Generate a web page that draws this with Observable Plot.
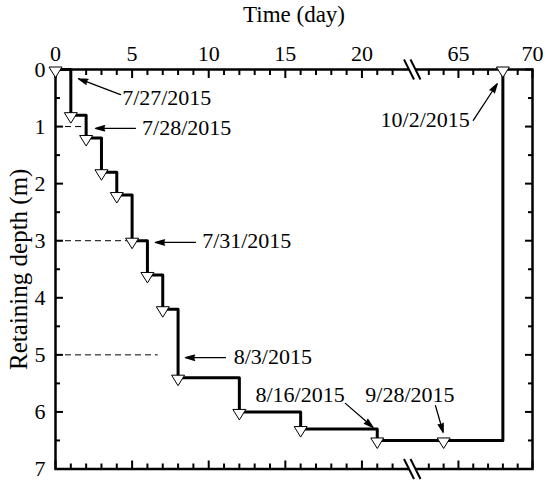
<!DOCTYPE html>
<html><head><meta charset="utf-8">
<script src="https://cdn.jsdelivr.net/npm/d3@7"></script>
<script src="https://cdn.jsdelivr.net/npm/@observablehq/plot@0.6"></script>
<style>body{margin:0;background:#fff}</style>
</head><body><div id="chart"></div>
<script>
// Excavation record: time (day) vs retaining depth (m)
const days   = [0, 1, 2, 3, 4, 5, 6, 7, 8, 12, 16, 21, 64, 68];
const depths = [0, 0.8, 1.2, 1.8, 2.2, 3.0, 3.6, 4.2, 5.4, 6.0, 6.3, 6.5, 6.5, 0];

// dashed reference lines
const refDepths = [1, 3, 5];
const refEnds = [2, 4.7, 6.7];

// date annotations
const dateLabels = ["7/27/2015", "7/28/2015", "7/31/2015", "8/3/2015", "8/16/2015", "9/28/2015", "10/2/2015"];
const labelX = [4.35, 5.65, 9.57, 11.63, 13.05, 20.22, 65.77];
const labelY = [0.49, 1.02, 3.0, 5.03, 5.70, 5.70, 0.88];
const labelAnchor = ["start", "start", "start", "start", "start", "start", "end"];
const arrowX1 = [4.24, 5.22, 9.13, 11.09, 18.92, 63.45, 66.0];
const arrowY1 = [0.44, 1.03, 3.03, 5.05, 5.85, 5.89, 0.89];
const arrowX2 = [1.5, 2.61, 6.52, 8.48, 20.72, 63.97, 67.62];
const arrowY2 = [0.16, 1.03, 3.03, 5.05, 6.27, 6.36, 0.25];

// ticks
const majorXTicks = [0, 5, 10, 15, 20, 65, 70];
const minorXTicks = [1, 2, 3, 4, 6, 7, 8, 9, 11, 12, 13, 14, 16, 17, 18, 19, 21, 22, 63, 64, 66, 67, 68, 69];
const yTicks = [0, 1, 2, 3, 4, 5, 6, 7];
const yMinorTicks = [0.5, 1.5, 2.5, 3.5, 4.5, 5.5, 6.5];

// axis break (days 23.3 .. 62 collapsed)
const breakStart = 23.3, breakEnd = 62;

const downTri = {draw(ctx) { ctx.moveTo(-6.5, -2.5); ctx.lineTo(6.5, -2.5); ctx.lineTo(0, 8); ctx.closePath(); }};
const breakFillSym = {draw(ctx) { ctx.moveTo(-8.5, -10); ctx.lineTo(-2, -10); ctx.lineTo(8, 10); ctx.lineTo(1.5, 10); ctx.closePath(); }};
const breakLineSym = {draw(ctx) { ctx.moveTo(-8.5, -10); ctx.lineTo(1.5, 10); ctx.moveTo(-2, -10); ctx.lineTo(8, 10); }};

const idx = days.map((d, i) => i);
const ann = dateLabels.map((d, i) => i);
const annStart = ann.filter(i => labelAnchor[i] === "start");
const annEnd = ann.filter(i => labelAnchor[i] === "end");
const font = "'Liberation Serif', 'Times New Roman', serif";

const W = 550, H = 493, ML = 55, MR = 18, MT = 69, MB = 24.5;

const tickAxes = [];
for (const anchor of ["top", "bottom"]) {
  tickAxes.push(Plot.axisX({ticks: majorXTicks, anchor, tickSize: -8, strokeWidth: 2, fill: "none", label: null}));
  tickAxes.push(Plot.axisX({ticks: minorXTicks, anchor, tickSize: -5, strokeWidth: 2, fill: "none", label: null}));
}
for (const anchor of ["left", "right"]) {
  tickAxes.push(Plot.axisY({ticks: yTicks, anchor, tickSize: -8, strokeWidth: 2, fill: "none", label: null}));
  tickAxes.push(Plot.axisY({ticks: yMinorTicks, anchor, tickSize: -5, strokeWidth: 2, fill: "none", label: null}));
}

const textOpts = {x: i => labelX[i], y: i => labelY[i], text: i => dateLabels[i], fontSize: 22, fill: "#000"};

const chart = Plot.plot({
  width: W, height: H,
  marginLeft: ML, marginRight: MR, marginTop: MT, marginBottom: MB,
  style: {fontFamily: font, background: "#fff", color: "#000"},
  x: {type: "linear", domain: [0, breakStart, breakEnd, 70], range: [ML, 412, 413.5, W - MR], label: null},
  y: {domain: [0, 7], reverse: true, label: null},
  marks: [
    Plot.ruleY(refDepths, {y: d => d, x1: () => 0, x2: (d, i) => refEnds[i], stroke: "#000", strokeWidth: 1, strokeDasharray: "6,4"}),
    Plot.frame({stroke: "#000", strokeWidth: 2.5}),
    ...tickAxes,
    Plot.axisX({ticks: majorXTicks, anchor: "top", tickSize: 0, tickPadding: 9, fontSize: 22, tickFormat: d => String(d), label: null}),
    Plot.axisY({ticks: yTicks, anchor: "left", tickSize: 0, tickPadding: 10, fontSize: 22, tickFormat: d => String(d), label: null}),
    Plot.dot([breakStart, breakStart], {x: d => d, y: (d, i) => i === 0 ? 0 : 7, symbol: breakFillSym, fill: "#fff", stroke: "none"}),
    Plot.dot([breakStart, breakStart], {x: d => d, y: (d, i) => i === 0 ? 0 : 7, symbol: breakLineSym, fill: "none", stroke: "#000", strokeWidth: 2}),
    Plot.line(idx, {x: i => days[i], y: i => depths[i], curve: "step-after", stroke: "#000", strokeWidth: 3}),
    Plot.dot(idx, {x: i => days[i], y: i => depths[i], symbol: downTri, fill: "#fff", stroke: "#000", strokeWidth: 1}),
    Plot.arrow(ann, {x1: i => arrowX1[i], y1: i => arrowY1[i], x2: i => arrowX2[i], y2: i => arrowY2[i], stroke: "#000", fill: "#000", strokeWidth: 1.3, headLength: 11, headAngle: 32}),
    Plot.text(annStart, {...textOpts, textAnchor: "start"}),
    Plot.text(annEnd, {...textOpts, textAnchor: "end"}),
    Plot.text(["Time (day)"], {text: d => d, frameAnchor: "top", textAnchor: "middle", lineAnchor: "middle", dy: -55, fontSize: 23, fill: "#000"}),
    Plot.text(["Retaining depth (m)"], {text: d => d, frameAnchor: "left", textAnchor: "middle", lineAnchor: "middle", rotate: -90, dx: -37, fontSize: 25, fill: "#000"})
  ]
});
document.getElementById("chart").appendChild(chart);
</script>
</body></html>
